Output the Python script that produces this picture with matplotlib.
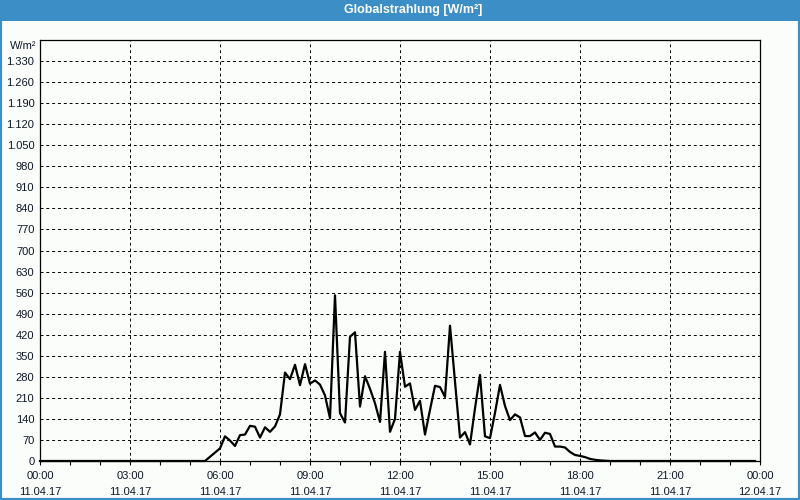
import numpy as np
import matplotlib
matplotlib.use('Agg')
import matplotlib.pyplot as plt
from matplotlib.patches import Rectangle
from matplotlib.ticker import MultipleLocator

# global radiation, 10-minute values, 11.04.17 00:00 - 23:50
radiation = [
    0, 0, 0, 0, 0, 0, 0, 0, 0, 0, 0, 0,                      # 00:00 - 01:50
    0, 0, 0, 0, 0, 0, 0, 0, 0, 0, 0, 0,                      # 02:00 - 03:50
    0, 0, 0, 0, 0, 0, 0, 0, 0, 0, 14, 28,                    # 04:00 - 05:50
    42, 82, 68, 50, 86, 88, 117, 114, 78, 112, 97, 115,      # 06:00 - 07:50
    155, 294, 272, 320, 252, 322, 257, 268, 254, 218, 142, 551,
    159, 128, 413, 428, 181, 282, 240, 192, 130, 363, 97, 140,
    363, 247, 258, 170, 200, 88, 170, 250, 246, 213, 450, 265,
    78, 96, 55, 175, 286, 82, 76, 160, 253, 183, 136, 155,
    145, 83, 83, 95, 70, 94, 90, 48, 48, 45, 30, 20,
    17, 13, 7, 4, 2, 1, 0, 0, 0, 0, 0, 0,                     # 18:00 - 19:50
    0, 0, 0, 0, 0, 0, 0, 0, 0, 0, 0, 0,
    0, 0, 0, 0, 0, 0, 0, 0, 0, 0, 0, 0,                      # 22:00 - 23:50
]
hours = np.arange(len(radiation)) / 6.0

x_ticks = [0, 3, 6, 9, 12, 15, 18, 21, 24]
x_labels = ['00:00\n11.04.17', '03:00\n11.04.17', '06:00\n11.04.17',
            '09:00\n11.04.17', '12:00\n11.04.17', '15:00\n11.04.17',
            '18:00\n11.04.17', '21:00\n11.04.17', '00:00\n12.04.17']
y_ticks = list(range(0, 1331, 70))
y_labels = [f'{v:,}'.replace(',', '.') for v in y_ticks]

title = 'Globalstrahlung [W/m²]'
unit = 'W/m²'

blue = '#3c8fc6'
bg = '#fbfdfb'
txt = '#101828'

plt.rcParams['font.family'] = ['Liberation Sans', 'DejaVu Sans']
fig = plt.figure(figsize=(8, 5), dpi=100, facecolor=bg)

# window frame + title bar
fig.patches.append(Rectangle((0, 0), 1, 1, transform=fig.transFigure,
                             fill=False, edgecolor=blue, linewidth=3, zorder=0))
fig.patches.append(Rectangle((0, 1 - 21 / 500), 1, 21 / 500, transform=fig.transFigure,
                             facecolor=blue, edgecolor='none', zorder=1))
fig.text(413 / 800, 1 - 10.5 / 500, title, color='white', fontsize=9, fontweight='bold',
         ha='center', va='center')

ax = fig.add_axes([40 / 800, 39 / 500, 720 / 800, 421 / 500])
ax.set_facecolor(bg)
ax.plot(hours, radiation, color='black', linewidth=1.6, clip_on=False, zorder=3)

ax.set_xlim(0, 24)
ax.set_ylim(0, 1400)
ax.set_xticks(x_ticks)
ax.set_xticklabels(x_labels, fontsize=8, linespacing=1.75, color=txt)
ax.xaxis.set_minor_locator(MultipleLocator(1))
ax.set_yticks(y_ticks)
ax.set_yticklabels(y_labels, fontsize=8, color=txt)

ax.tick_params(axis='x', which='both', length=3, width=0.8, direction='out', pad=4)
ax.tick_params(axis='y', which='major', length=0, pad=4)
ax.grid(True, which='major', color='black', linestyle=(0, (3, 3)), linewidth=0.7)
for s in ax.spines.values():
    s.set_linewidth(0.9)
    s.set_color('black')

fig.text(10 / 800, 1 - 46 / 500, unit, fontsize=8, ha='left', va='center', color=txt)

fig.savefig('out.png', dpi=100, facecolor=bg)
